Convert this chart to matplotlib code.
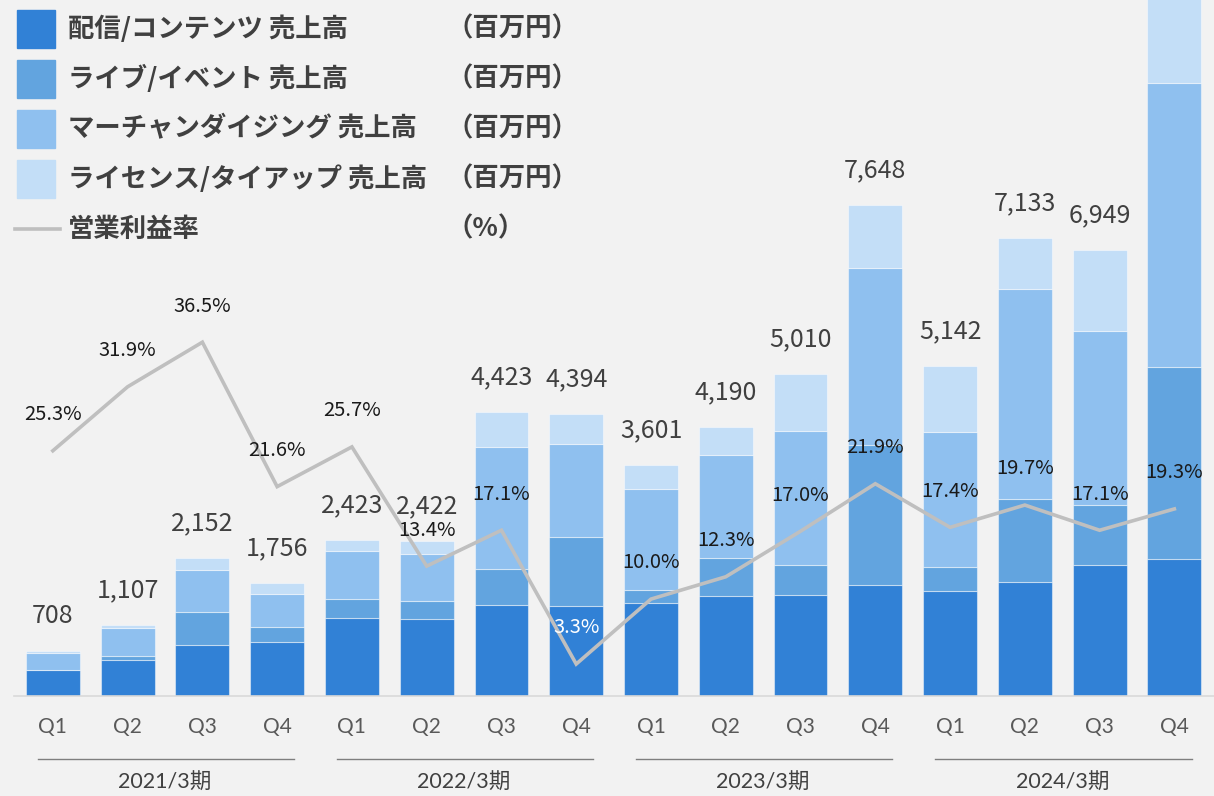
import numpy as np
import matplotlib.pyplot as plt
from matplotlib.patches import Rectangle
from matplotlib.lines import Line2D

plt.rcParams['font.family'] = ['Noto Sans CJK JP', 'DejaVu Sans']

quarters = ['Q1', 'Q2', 'Q3', 'Q4'] * 4
years = ['2021/3期', '2022/3期', '2023/3期', '2024/3期']

# 売上高 (百万円) by segment, per quarter
streaming = [405, 562, 790, 838, 1210, 1195, 1412, 1397,
             1450, 1565, 1570, 1724, 1643, 1780, 2033, 2134]
live = [5, 62, 525, 236, 298, 290, 563, 1078,
        195, 580, 468, 2186, 374, 1293, 950, 2991]
merch = [260, 430, 655, 510, 754, 720, 1903, 1456,
         1582, 1608, 2089, 2757, 2092, 3271, 2710, 4424]
license_ = [38, 53, 182, 172, 161, 217, 545, 463,
            374, 437, 883, 981, 1033, 789, 1256, 1800]

# 営業利益率 (%)
op_margin = [25.3, 31.9, 36.5, 21.6, 25.7, 13.4, 17.1, 3.3,
             10.0, 12.3, 17.0, 21.9, 17.4, 19.7, 17.1, 19.3]

series_names = ['配信/コンテンツ 売上高', 'ライブ/イベント 売上高',
                'マーチャンダイジング 売上高', 'ライセンス/タイアップ 売上高']
colors = ['#3181d6', '#62a4df', '#8fc0ef', '#c3def7']
bg = '#f2f2f2'

fig = plt.figure(figsize=(12.14, 7.96), dpi=100, facecolor=bg)
ax = fig.add_axes([0.0115, 0.1256, 0.9885, 0.8744], facecolor=bg)

x = np.arange(len(quarters))
segs = [streaming, live, merch, license_]
bottom = np.zeros(len(x))
for vals, c in zip(segs, colors):
    vals = np.array(vals, dtype=float)
    ax.bar(x, vals, 0.72, bottom=bottom, color=c,
           edgecolor=(1, 1, 1, 0.45), linewidth=0.8, zorder=2)
    bottom += vals
totals = bottom

ax.set_xlim(-0.52, 15.53)
ax.set_ylim(0, 10841)

for xi, t in zip(x, totals):
    ax.annotate(f'{int(t):,}', (xi, t), xytext=(0, 25), textcoords='offset points',
                ha='center', va='center', fontsize=18, color='#404040')

ax.set_xticks(x)
ax.set_xticklabels(quarters, family=['Lato', 'DejaVu Sans'], fontsize=15,
                   color='#595959')
ax.tick_params(axis='x', length=0, pad=15)
ax.set_yticks([])
for s in ['top', 'left', 'right']:
    ax.spines[s].set_visible(False)
ax.spines['bottom'].set_color('#d9d9d9')
ax.spines['bottom'].set_linewidth(1.2)

# fiscal year brackets under the quarter labels
tr = ax.get_xaxis_transform()
for i, yr in enumerate(years):
    x0, x1 = i * 4 - 0.2, i * 4 + 3.23
    ax.add_line(Line2D([x0, x1], [-0.0905, -0.0905], transform=tr,
                       color='#7f7f7f', lw=1.0, clip_on=False))
    ax.text(i * 4 + 1.5, -0.124, yr, transform=tr, ha='center', va='center',
            fontsize=15.5, color='#404040',
            family=['Lato', 'Noto Sans CJK JP'])

# operating margin line on a secondary axis
ax2 = ax.twinx()
ax2.set_ylim(0, 71.8)
ax2.axis('off')
ax2.plot(x, op_margin, color='#bfbfbf', lw=2.6, zorder=3, solid_joinstyle='miter')
for xi, m in zip(x, op_margin):
    col = 'white' if m < 5 else '#1a1a1a'
    ax2.annotate(f'{m:.1f}%', (xi, m), xytext=(0, 26), textcoords='offset points',
                 ha='center', va='center', fontsize=14.5, color=col, zorder=4)

# legend block in the top-left corner
W, H = 1214, 796
rows_y = [29, 79, 129, 179, 229]
for yy, name, c in zip(rows_y[:4], series_names, colors):
    fig.patches.append(Rectangle((17 / W, 1 - (yy + 19) / H), 38 / W, 38 / H,
                                 transform=fig.transFigure, color=c))
    fig.text(68 / W, 1 - yy / H, name, ha='left', va='center', fontsize=19,
             fontweight='bold', color='#404040')
    fig.text(446 / W, 1 - yy / H, '（百万円）', ha='left', va='center', fontsize=19,
             fontweight='bold', color='#404040')
fig.lines.append(Line2D([15 / W, 60 / W], [1 - 229 / H] * 2, transform=fig.transFigure,
                        color='#bfbfbf', lw=2.6))
fig.text(68 / W, 1 - 229 / H, '営業利益率', ha='left', va='center', fontsize=19,
         fontweight='bold', color='#404040')
fig.text(446 / W, 1 - 229 / H, '（%）', ha='left', va='center', fontsize=19,
         fontweight='bold', color='#404040')

fig.savefig('out.png', dpi=100, facecolor=bg)
